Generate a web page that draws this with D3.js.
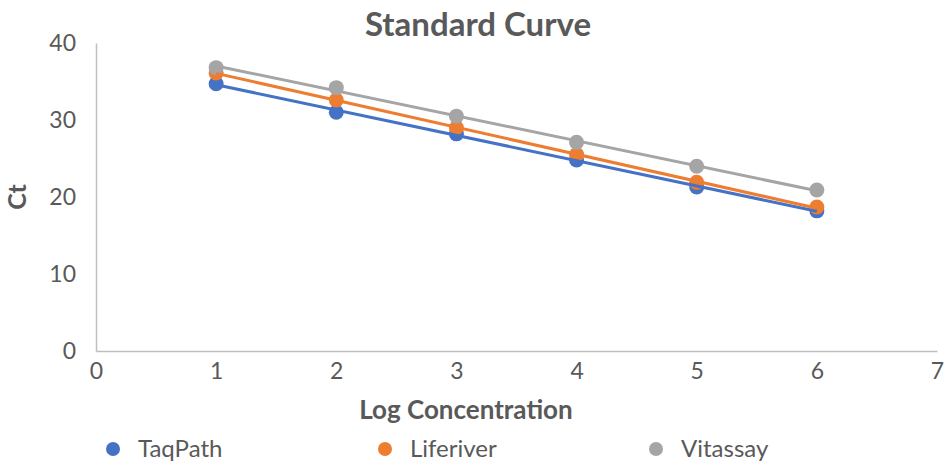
<!DOCTYPE html>
<html><head><meta charset="utf-8">
<script src="https://cdn.jsdelivr.net/npm/d3@7"></script>
<style>body{margin:0;background:#fff}svg{display:block;font-family:Lato,"Open Sans",sans-serif}</style>
</head><body><svg id="c" width="944" height="466"></svg>
<script>
const xValues = [1, 2, 3, 4, 5, 6];
const taqPath = [34.7, 31.0, 28.2, 24.8, 21.3, 18.2];
const liferiver = [36.1, 32.6, 29.0, 25.5, 21.9, 18.7];
const vitassay = [36.8, 34.2, 30.5, 27.1, 24.0, 20.9];
const seriesNames = ["TaqPath", "Liferiver", "Vitassay"];
const seriesColors = ["#4472C4", "#ED7D31", "#A5A5A5"];
const xTicks = [0, 1, 2, 3, 4, 5, 6, 7];
const yTicks = [0, 10, 20, 30, 40];

const series = [taqPath, liferiver, vitassay].map((v, i) => ({name: seriesNames[i], color: seriesColors[i], values: v}));
const svg = d3.select("#c");
const x = d3.scaleLinear().domain([0, 7]).range([96, 937]);
const y = d3.scaleLinear().domain([0, 40]).range([351, 43]);

const xa = svg.append("g").attr("transform", `translate(0,${y(0)})`).call(d3.axisBottom(x).tickValues(xTicks).tickFormat(d3.format("d")).tickSize(0).tickPadding(12));
const ya = svg.append("g").attr("transform", `translate(${x(0)},0)`).call(d3.axisLeft(y).tickValues(yTicks).tickFormat(d3.format("d")).tickSize(0).tickPadding(20));
[xa, ya].forEach(a => {
  a.select(".domain").attr("stroke", "#BFBFBF").attr("stroke-width", 1.5);
  a.selectAll("text").attr("fill", "#595959").style("font-size", "23px").style("font-family", "Lato,'Open Sans',sans-serif");
});

function fit(v) {
  const mx = d3.mean(xValues), my = d3.mean(v);
  const b = d3.sum(xValues, (xx, i) => (xx - mx) * (v[i] - my)) / d3.sum(xValues, xx => (xx - mx) ** 2);
  return xx => my + b * (xx - mx);
}

series.forEach(s => {
  svg.append("g").selectAll("circle").data(s.values).join("circle")
    .attr("cx", (d, i) => x(xValues[i])).attr("cy", d => y(d)).attr("r", 7.5).attr("fill", s.color);
});
series.forEach(s => {
  const f = fit(s.values);
  const x0 = d3.min(xValues), x1 = d3.max(xValues);
  svg.append("line").attr("x1", x(x0)).attr("y1", y(f(x0))).attr("x2", x(x1)).attr("y2", y(f(x1)))
    .attr("stroke", s.color).attr("stroke-width", 3);
});

svg.append("text").attr("x", 478).attr("y", 36).attr("text-anchor", "middle")
  .attr("fill", "#595959").style("font-size", "33px").style("font-weight", "bold").text("Standard Curve");
svg.append("text").attr("x", 466).attr("y", 419).attr("text-anchor", "middle")
  .attr("fill", "#595959").style("font-size", "26px").style("font-weight", "bold").text("Log Concentration");
svg.append("text").attr("transform", "translate(26,197) rotate(-90)").attr("text-anchor", "middle")
  .attr("fill", "#595959").style("font-size", "25px").style("font-weight", "bold").text("Ct");

const legX = [113, 385, 656];
const leg = svg.append("g").selectAll("g").data(series).join("g")
  .attr("transform", (d, i) => `translate(${legX[i]},449)`);
leg.append("circle").attr("r", 7).attr("fill", d => d.color);
leg.append("text").attr("x", 25).attr("y", 8).attr("fill", "#595959").style("font-size", "24px").text(d => d.name);
</script></body></html>
